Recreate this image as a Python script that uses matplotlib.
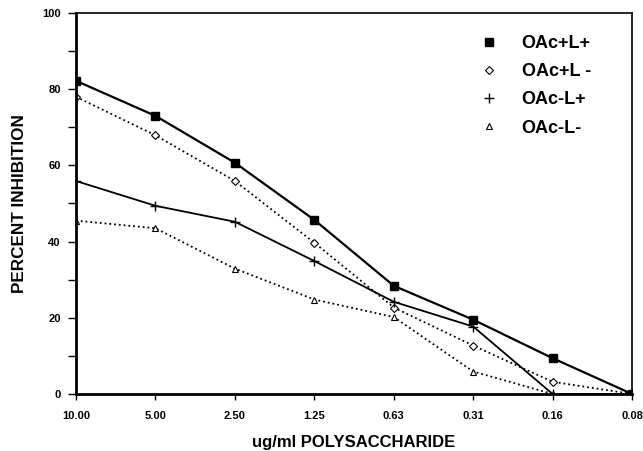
import numpy as np
import matplotlib.pyplot as plt

plt.rcParams['font.family'] = 'Liberation Sans'
plt.rcParams['font.weight'] = 'bold'

conc = ['10.00', '5.00', '2.50', '1.25', '0.63', '0.31', '0.16', '0.08']
oac_p_l_p = [82.2, 73.0, 60.7, 45.7, 28.4, 19.5, 9.4, 0]
oac_p_l_m = [78.0, 67.9, 55.9, 39.7, 22.7, 12.7, 3.2, 0]
oac_m_l_p = [55.9, 49.4, 45.2, 34.9, 24.2, 17.7, 0, 0]
oac_m_l_m = [45.5, 43.5, 32.9, 24.8, 20.2, 5.9, 0, 0]

x = np.arange(len(conc))

fig = plt.figure(figsize=(6.43, 4.51), dpi=100)
ax = fig.add_axes([0.1182, 0.1264, 0.8648, 0.8448])

ax.plot(x, oac_p_l_p, '-', color='black', lw=1.6, marker='s', ms=5.5, label='OAc+L+')
ax.plot(x, oac_p_l_m, ':', color='black', lw=1.3, marker='D', ms=4, mfc='white', mew=0.8, label='OAc+L -')
ax.plot(x, oac_m_l_p, '-', color='black', lw=1.3, marker='+', ms=7, mew=1.0, label='OAc-L+')
ax.plot(x, oac_m_l_m, ':', color='black', lw=1.3, marker='^', ms=5, mfc='white', mew=0.8, label='OAc-L-')

ax.set_xlim(0, 7)
ax.set_ylim(0, 100)
ax.set_xticks(x)
ax.set_xticklabels(conc)
ax.set_yticks(np.arange(0, 101, 20))
ax.set_yticks(np.arange(10, 100, 20), minor=True)
ax.tick_params(axis='both', which='both', direction='out', labelsize=8, width=1)
ax.tick_params(axis='y', which='both', length=6, pad=5)
ax.tick_params(axis='x', length=4, pad=8)

ax.spines['left'].set_linewidth(2)
ax.spines['bottom'].set_linewidth(2)
ax.spines['top'].set_linewidth(1.2)
ax.spines['right'].set_linewidth(1.2)

ax.set_xlabel('ug/ml POLYSACCHARIDE', fontsize=12, fontweight='bold', labelpad=10)
ax.set_ylabel('PERCENT INHIBITION', fontsize=12.3, fontweight='bold', labelpad=11)

leg = ax.legend(loc='upper right', bbox_to_anchor=(0.955, 0.985), frameon=False,
                handlelength=0.8, handletextpad=1.4, labelspacing=0.62,
                prop={'size': 13, 'weight': 'bold'})
for line in leg.get_lines():
    line.set_linestyle('none')

fig.savefig('out.png', dpi=100)
